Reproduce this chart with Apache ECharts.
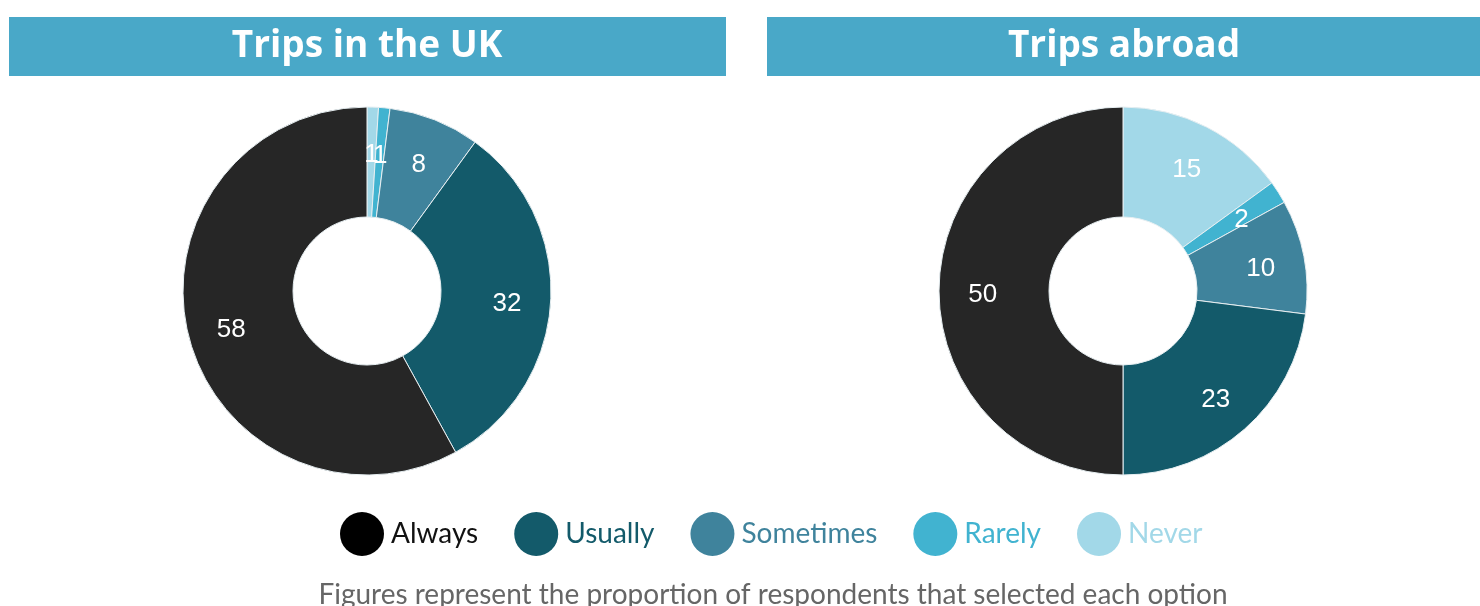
<!DOCTYPE html>
<html>
<head>
<meta charset="utf-8">
<script src="https://cdn.jsdelivr.net/npm/echarts@6/dist/echarts.min.js"></script>
<style>
  html, body { margin: 0; padding: 0; background: #fff; }
  #main { width: 1480px; height: 606px; }
</style>
</head>
<body>
<div id="main"></div>
<script>
// categories, in the order drawn clockwise from the top
var categories = ['Never', 'Rarely', 'Sometimes', 'Usually', 'Always'];
var ukValues = [1, 1, 8, 32, 58];
var abroadValues = [15, 2, 10, 23, 50];
var titles = ['Trips in the UK', 'Trips abroad'];
var legendOrder = ['Always', 'Usually', 'Sometimes', 'Rarely', 'Never'];
var footnote = 'Figures represent the proportion of respondents that selected each option';

var colors = {
    Always: '#262626',
    Usually: '#135A6A',
    Sometimes: '#3F839C',
    Rarely: '#41B3D0',
    Never: '#A2D8E8'
};
var legendColors = {
    Always: '#000000',
    Usually: '#135A6A',
    Sometimes: '#3F839C',
    Rarely: '#41B3D0',
    Never: '#A2D8E8'
};

var centers = [[367, 291], [1123, 291]];

function makeData(values) {
    return categories.map(function (name, i) {
        return { name: name, value: values[i], itemStyle: { color: colors[name] } };
    });
}

// push the inside labels a bit further out than the ring middle
function pushLabel(params) {
    var c = centers[params.seriesIndex];
    var r = params.labelRect;
    var lx = r.x + r.width / 2, ly = r.y + r.height / 2;
    var k = 137 / 129 - 1;
    return { dx: (lx - c[0]) * k, dy: (ly - c[1]) * k + 4 };
}

function pieSeries(values, idx) {
    return {
        type: 'pie',
        center: centers[idx],
        radius: [74, 184],
        startAngle: 90,
        clockwise: true,
        avoidLabelOverlap: false,
        label: {
            show: true,
            position: 'inside',
            formatter: '{c}',
            color: '#fff',
            fontSize: 26,
            fontFamily: 'Liberation Sans, Arial, sans-serif'
        },
        labelLine: { show: false },
        labelLayout: pushLabel,
        itemStyle: { borderColor: '#e6eef1', borderWidth: 1 },
        emphasis: { disabled: true },
        data: makeData(values)
    };
}

var chart = echarts.init(document.getElementById('main'));

var option = {
    animation: false,
    legend: {
        left: 335,
        top: 507,
        icon: 'circle',
        itemWidth: 44,
        itemHeight: 44,
        itemGap: 36,
        selectedMode: false,
        itemStyle: { borderWidth: 0 },
        textStyle: { fontSize: 28, fontFamily: 'Lato, sans-serif', padding: [4, 0, 0, 2] },
        data: legendOrder.map(function (n) {
            return {
                name: n,
                itemStyle: { color: legendColors[n], borderWidth: 0 },
                textStyle: { color: n === 'Always' ? '#111' : legendColors[n] }
            };
        })
    },
    graphic: [
        { type: 'rect', shape: { x: 9, y: 17, width: 717, height: 59 }, style: { fill: '#49A8C8' } },
        { type: 'rect', shape: { x: 767, y: 17, width: 713, height: 59 }, style: { fill: '#49A8C8' } },
        {
            type: 'text', x: 367, y: 46,
            style: { text: titles[0], fill: '#fff', font: 'bold 37px "Open Sans", sans-serif', textAlign: 'center', textVerticalAlign: 'middle' }
        },
        {
            type: 'text', x: 1124, y: 46,
            style: { text: titles[1], fill: '#fff', font: 'bold 37px "Open Sans", sans-serif', textAlign: 'center', textVerticalAlign: 'middle' }
        },
        {
            type: 'text', x: 773, y: 595,
            style: { text: footnote, fill: '#666', font: '28px Lato, sans-serif', textAlign: 'center', textVerticalAlign: 'middle' }
        }
    ],
    series: [
        pieSeries(ukValues, 0),
        pieSeries(abroadValues, 1)
    ]
};

chart.setOption(option);
</script>
</body>
</html>
